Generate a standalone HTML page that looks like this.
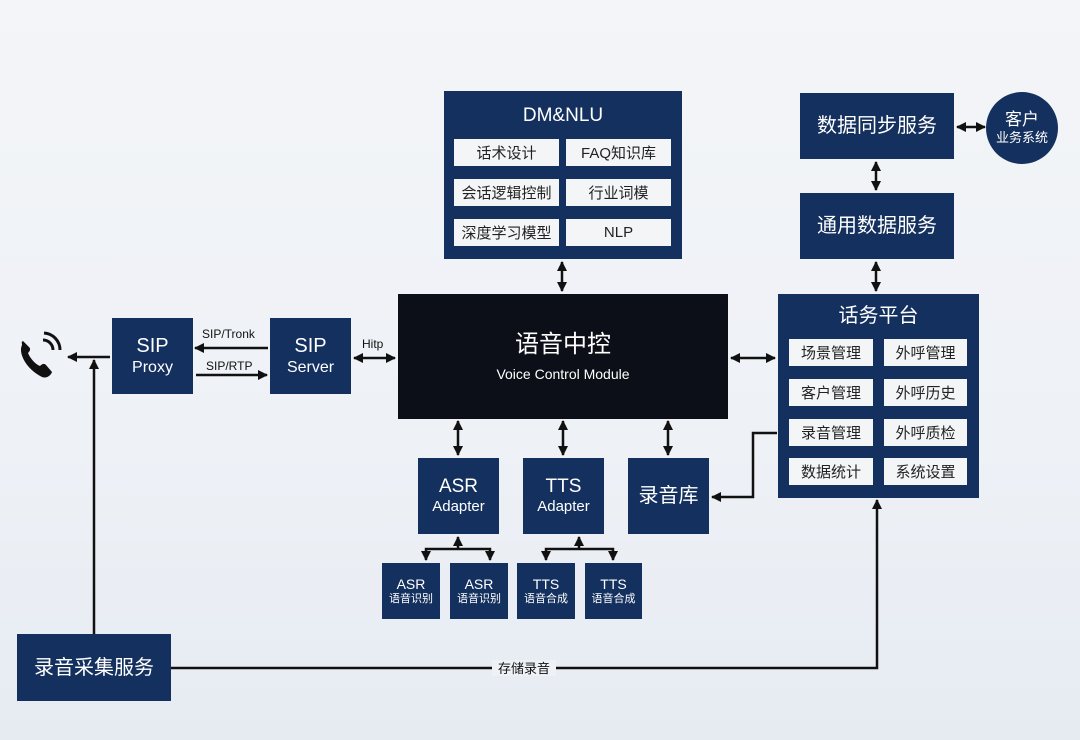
<!DOCTYPE html>
<html><head><meta charset="utf-8"><style>
*{margin:0;padding:0;box-sizing:border-box}
body{width:1080px;height:740px;overflow:hidden;background:linear-gradient(180deg,#f3f5f8 0%,#eef1f6 60%,#e6ebf2 100%);font-family:"Liberation Sans","Noto Sans CJK SC",sans-serif;position:relative}
.b{position:absolute;background:#14305e;color:#fff;display:flex;flex-direction:column;align-items:center;justify-content:center;text-align:center;line-height:1.2}
.c{position:absolute;background:#f4f5f7;color:#222;font-size:15px;display:flex;align-items:center;justify-content:center}
.t{position:absolute;font-size:12px;color:#111}
svg{position:absolute;left:0;top:0}
</style></head><body>
<svg width="1080" height="740">
<defs><marker id="a" viewBox="0 0 10 10" refX="9" refY="5" markerWidth="4" markerHeight="4" orient="auto-start-reverse"><path d="M0,0L10,5L0,10z" fill="#111"/></marker></defs>
<g stroke="#111" stroke-width="2.5" fill="none">
<line x1="562" y1="262" x2="562" y2="291" marker-start="url(#a)" marker-end="url(#a)"/>
<line x1="876" y1="162" x2="876" y2="190" marker-start="url(#a)" marker-end="url(#a)"/>
<line x1="876" y1="262" x2="876" y2="291" marker-start="url(#a)" marker-end="url(#a)"/>
<line x1="957" y1="127" x2="985" y2="127" marker-start="url(#a)" marker-end="url(#a)"/>
<line x1="731" y1="358" x2="775" y2="358" marker-start="url(#a)" marker-end="url(#a)"/>
<line x1="354" y1="358" x2="395" y2="358" marker-start="url(#a)" marker-end="url(#a)"/>
<line x1="268" y1="348" x2="195" y2="348" marker-end="url(#a)"/>
<line x1="196" y1="375" x2="267" y2="375" marker-end="url(#a)"/>
<line x1="110" y1="357" x2="68" y2="357" marker-end="url(#a)"/>
<line x1="94" y1="634" x2="94" y2="360" marker-end="url(#a)"/>
<line x1="458" y1="421" x2="458" y2="455" marker-start="url(#a)" marker-end="url(#a)"/>
<line x1="563" y1="421" x2="563" y2="455" marker-start="url(#a)" marker-end="url(#a)"/>
<line x1="668" y1="421" x2="668" y2="455" marker-start="url(#a)" marker-end="url(#a)"/>
<polyline points="777,433 753,433 753,497 712,497" marker-end="url(#a)"/>
<line x1="458" y1="549" x2="458" y2="537" marker-end="url(#a)"/>
<polyline points="426,560 426,549 490,549 490,560" marker-start="url(#a)" marker-end="url(#a)"/>
<line x1="579" y1="549" x2="579" y2="537" marker-end="url(#a)"/>
<polyline points="546,560 546,549 613,549 613,560" marker-start="url(#a)" marker-end="url(#a)"/>
<polyline points="170,668 877,668 877,500" marker-end="url(#a)"/>
<path d="M43,340 a10,10 0 0 1 10,10" stroke-width="3"/>
<path d="M44,333 a17,17 0 0 1 16,17" stroke-width="3"/>
</g>
<path d="M22,345 c-4,8 4,24 20,32 c5,2 9,-2 10,-5 l-6,-7 c-2,-2 -4,-1 -6,1 c-5,-2 -10,-8 -12,-13 c2,-2 3,-4 1,-6 l-6,-6 c-2,1 -1,2 -1,4z" fill="#111"/>
<rect x="492" y="660" width="64" height="16" fill="#eef1f6"/>
<text x="524" y="673" font-size="13" text-anchor="middle" fill="#111" font-family="Liberation Sans,Noto Sans CJK SC,sans-serif">存储录音</text>
</svg>
<div class="t" style="left:202px;top:327px">SIP/Tronk</div>
<div class="t" style="left:206px;top:359px">SIP/RTP</div>
<div class="t" style="left:362px;top:337px">Hitp</div>

<div class="b" style="left:112px;top:318px;width:81px;height:76px;font-size:20px">SIP<span style="font-size:16px">Proxy</span></div>
<div class="b" style="left:270px;top:318px;width:81px;height:76px;font-size:20px">SIP<span style="font-size:16px">Server</span></div>
<div class="b" style="left:398px;top:294px;width:330px;height:125px;background:#0c0f17;font-size:24px">语音中控<span style="font-size:14px;margin-top:6px">Voice Control Module</span></div>

<div class="b" style="left:444px;top:91px;width:238px;height:168px;justify-content:flex-start;padding-top:14px;font-size:19px">DM&amp;NLU</div>
<div class="c" style="left:454px;top:139px;width:105px;height:27px">话术设计</div>
<div class="c" style="left:566px;top:139px;width:105px;height:27px">FAQ知识库</div>
<div class="c" style="left:454px;top:179px;width:105px;height:27px">会话逻辑控制</div>
<div class="c" style="left:566px;top:179px;width:105px;height:27px">行业词模</div>
<div class="c" style="left:454px;top:219px;width:105px;height:27px">深度学习模型</div>
<div class="c" style="left:566px;top:219px;width:105px;height:27px">NLP</div>

<div class="b" style="left:800px;top:93px;width:154px;height:66px;font-size:20px">数据同步服务</div>
<div class="b" style="left:986px;top:92px;width:72px;height:72px;border-radius:50%;font-size:17px">客户<span style="font-size:13px">业务系统</span></div>
<div class="b" style="left:800px;top:193px;width:154px;height:66px;font-size:20px">通用数据服务</div>

<div class="b" style="left:778px;top:294px;width:201px;height:204px;justify-content:flex-start;padding-top:10px;font-size:20px">话务平台</div>
<div class="c" style="left:789px;top:339px;width:84px;height:27px">场景管理</div>
<div class="c" style="left:884px;top:339px;width:83px;height:27px">外呼管理</div>
<div class="c" style="left:789px;top:379px;width:84px;height:27px">客户管理</div>
<div class="c" style="left:884px;top:379px;width:83px;height:27px">外呼历史</div>
<div class="c" style="left:789px;top:419px;width:84px;height:27px">录音管理</div>
<div class="c" style="left:884px;top:419px;width:83px;height:27px">外呼质检</div>
<div class="c" style="left:789px;top:458px;width:84px;height:27px">数据统计</div>
<div class="c" style="left:884px;top:458px;width:83px;height:27px">系统设置</div>

<div class="b" style="left:418px;top:458px;width:81px;height:76px;font-size:19px">ASR<span style="font-size:15px">Adapter</span></div>
<div class="b" style="left:523px;top:458px;width:81px;height:76px;font-size:19px">TTS<span style="font-size:15px">Adapter</span></div>
<div class="b" style="left:628px;top:458px;width:81px;height:76px;font-size:20px">录音库</div>

<div class="b" style="left:382px;top:563px;width:58px;height:56px;font-size:14px">ASR<span style="font-size:11px">语音识别</span></div>
<div class="b" style="left:450px;top:563px;width:58px;height:56px;font-size:14px">ASR<span style="font-size:11px">语音识别</span></div>
<div class="b" style="left:517px;top:563px;width:58px;height:56px;font-size:14px">TTS<span style="font-size:11px">语音合成</span></div>
<div class="b" style="left:585px;top:563px;width:57px;height:56px;font-size:14px">TTS<span style="font-size:11px">语音合成</span></div>

<div class="b" style="left:17px;top:634px;width:154px;height:67px;font-size:20px">录音采集服务</div>
</body></html>
